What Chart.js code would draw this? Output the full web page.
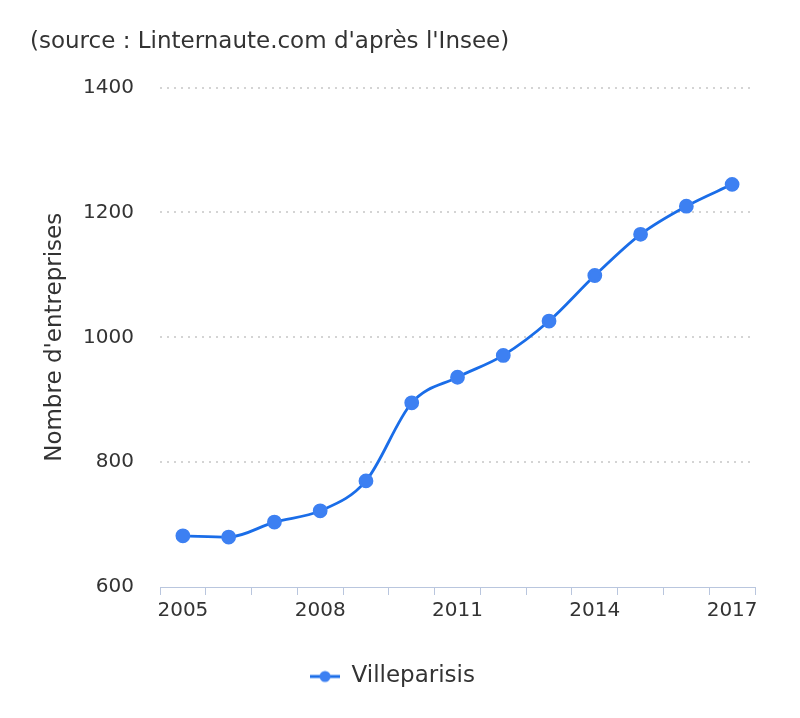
<!DOCTYPE html>
<html>
<head>
<meta charset="utf-8">
<script src="https://cdn.jsdelivr.net/npm/chart.js@4/dist/chart.umd.min.js"></script>
<style>
  html, body { margin: 0; padding: 0; background: #ffffff; }
  #wrap { width: 800px; height: 718px; position: relative; }
</style>
</head>
<body>
<div id="wrap"><canvas id="c" width="800" height="718"></canvas></div>
<script>
const years = ['2005','2006','2007','2008','2009','2010','2011','2012','2013','2014','2015','2016','2017'];
const companies = [682, 680, 704, 722, 770, 895, 936, 971, 1026, 1099, 1165, 1210, 1245];
const yTicks = [600, 800, 1000, 1200, 1400];
const seriesName = 'Villeparisis';
const titleText = "(source : Linternaute.com d'après l'Insee)";
const yTitle = "Nombre d'entreprises";

const FONT = "'DejaVu Sans', sans-serif";
const TEXT = '#333333';
const LINE = '#1a6de8';
const POINT = '#3d80f2';

// legend symbol: line with a dot
const sym = document.createElement('canvas');
sym.width = 30; sym.height = 14;
(function () {
  const g = sym.getContext('2d');
  g.strokeStyle = LINE; g.lineWidth = 3;
  g.beginPath(); g.moveTo(0, 7); g.lineTo(30, 7); g.stroke();
  g.fillStyle = POINT;
  g.beginPath(); g.arc(15, 7, 5.5, 0, Math.PI * 2); g.fill();
})();

new Chart(document.getElementById('c'), {
  type: 'line',
  data: {
    labels: years,
    datasets: [{
      label: seriesName,
      data: companies,
      borderColor: LINE,
      borderWidth: 2.8,
      backgroundColor: POINT,
      pointBackgroundColor: POINT,
      pointBorderColor: POINT,
      pointRadius: 6,
      pointStyle: 'circle',
      cubicInterpolationMode: 'monotone',
      fill: false
    }]
  },
  options: {
    responsive: false,
    animation: false,
    devicePixelRatio: 1,
    layout: { padding: { left: 30, right: 45, top: 20, bottom: 20 } },
    plugins: {
      title: {
        display: true,
        text: titleText,
        align: 'start',
        color: TEXT,
        font: { family: FONT, size: 23, weight: 'normal' },
        padding: { top: 8, bottom: 32 }
      },
      legend: {
        position: 'bottom',
        labels: {
          color: TEXT,
          font: { family: FONT, size: 23 },
          usePointStyle: true,
          pointStyleWidth: 30,
          padding: 10,
          generateLabels: () => [{
            text: seriesName,
            pointStyle: sym,
            fillStyle: POINT,
            strokeStyle: POINT,
            lineWidth: 0,
            datasetIndex: 0,
            fontColor: TEXT
          }]
        }
      },
      tooltip: { enabled: false }
    },
    scales: {
      x: {
        offset: true,
        afterFit: (s) => { s.height += 28; },
        grid: {
          offset: true,
          drawOnChartArea: false,
          drawTicks: true,
          tickLength: 8,
          color: '#b9c6de'
        },
        border: { display: true, color: '#b9c6de', width: 1 },
        ticks: {
          autoSkip: false,
          maxRotation: 0,
          color: TEXT,
          padding: 4,
          font: { family: FONT, size: 20 },
          callback: function (v, i) { return i % 3 === 0 ? years[i] : ''; }
        }
      },
      y: {
        min: yTicks[0],
        max: yTicks[yTicks.length - 1],
        afterBuildTicks: (s) => { s.ticks = yTicks.map(v => ({ value: v })); },
        afterFit: (s) => { s.width = 130; },
        border: { display: false, dash: [2, 5] },
        grid: {
          drawTicks: false,
          color: (ctx) => ctx.tick && ctx.tick.value === yTicks[0] ? 'rgba(0,0,0,0)' : '#d4d4d4',
          lineWidth: 2
        },
        ticks: {
          color: TEXT,
          padding: 26,
          font: { family: FONT, size: 20 },
          callback: (v) => String(v)
        },
        title: {
          display: true,
          text: yTitle,
          color: TEXT,
          font: { family: FONT, size: 23 },
          padding: { top: 11, bottom: 0 }
        }
      }
    }
  }
});
</script>
</body>
</html>
